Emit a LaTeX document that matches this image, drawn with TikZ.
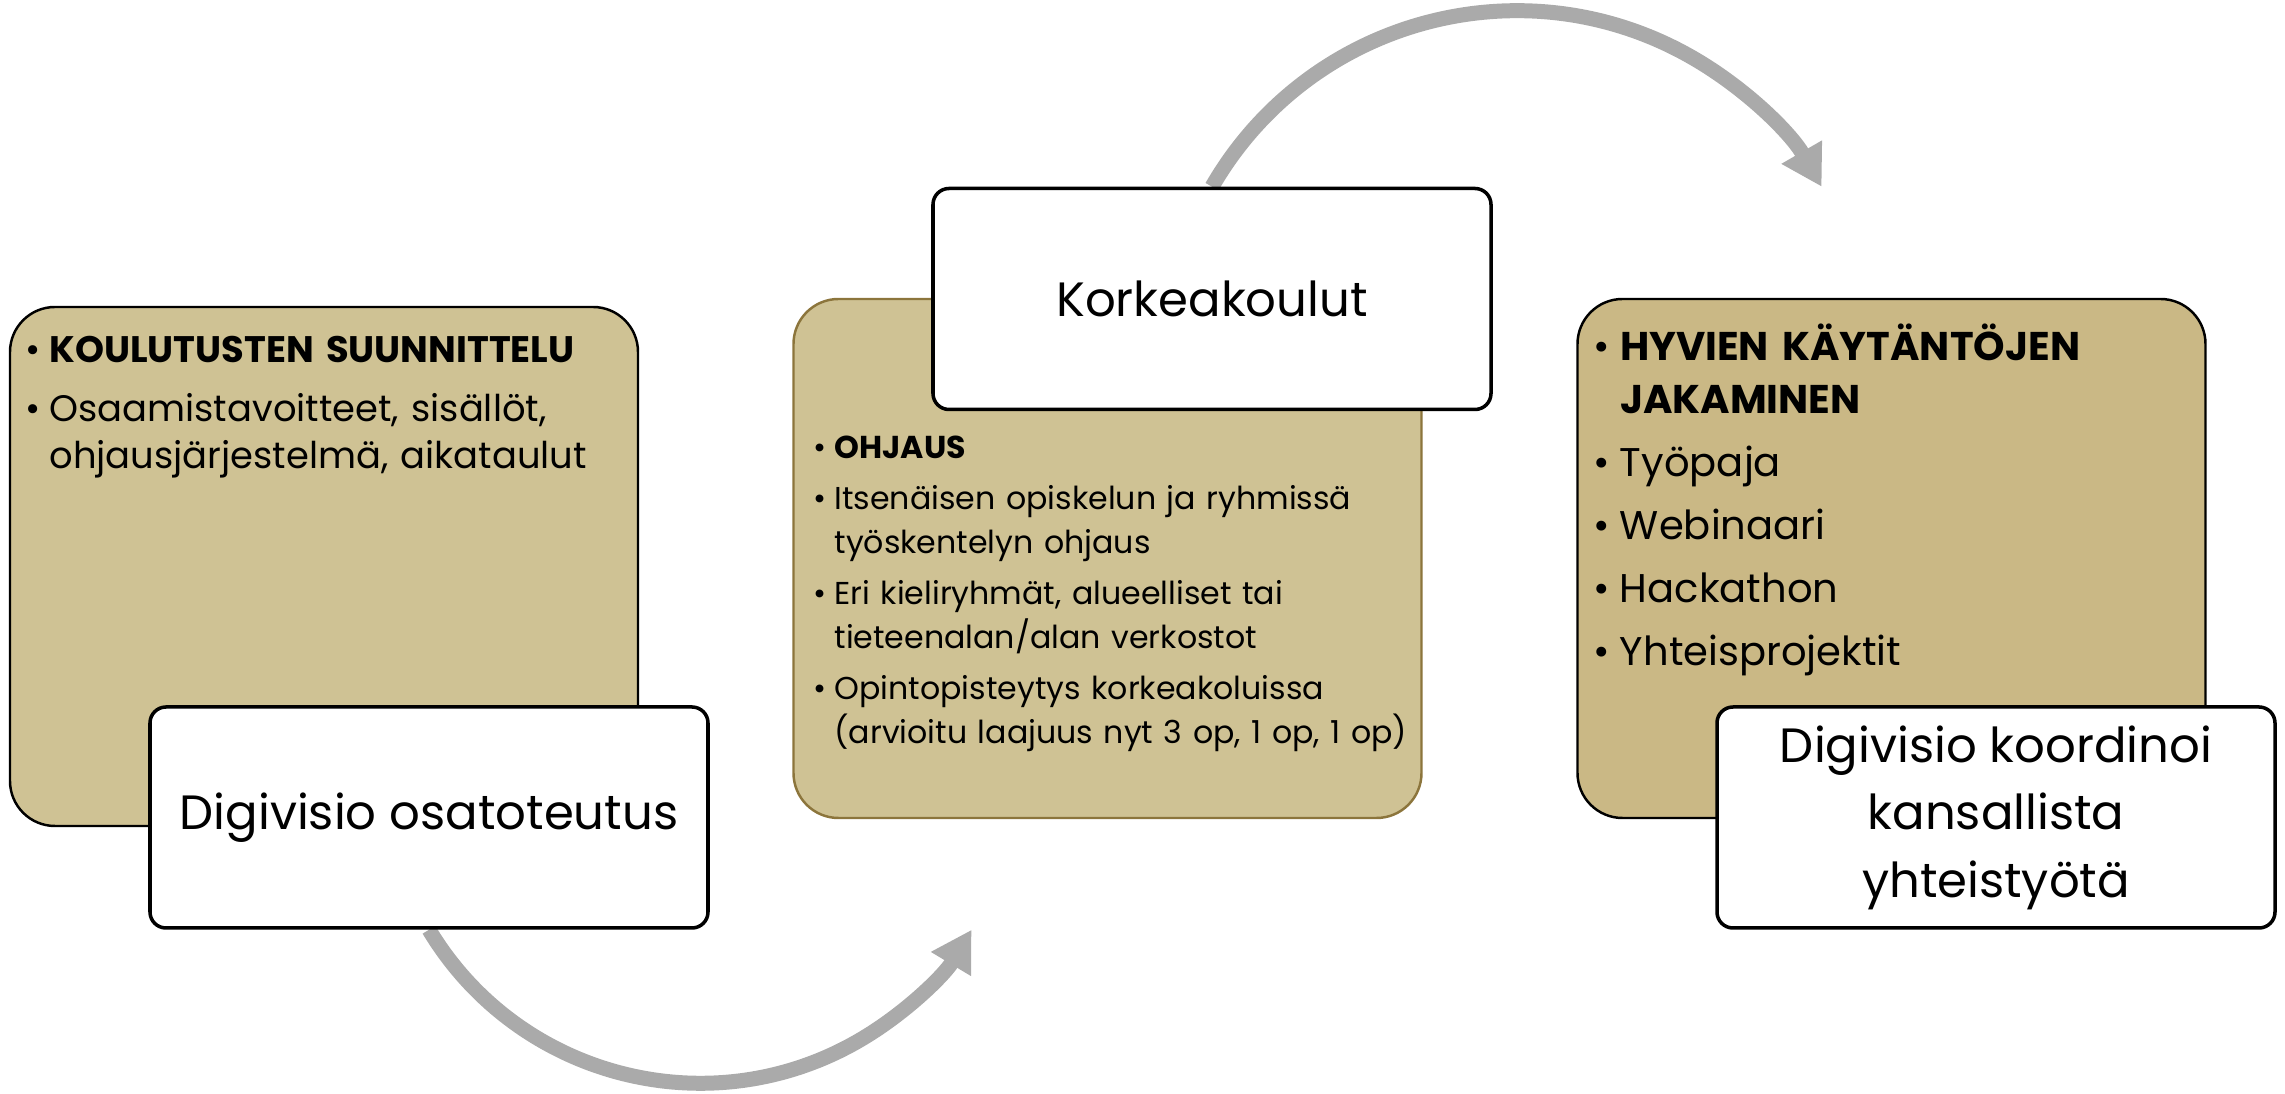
\documentclass[tikz,border=0pt]{standalone}
\usepackage{fontspec}
\setmainfont{Poppins}
\usepackage{tikz}
\usetikzlibrary{arrows.meta, backgrounds, positioning}
\definecolor{tanfill}{RGB}{207,194,148}
\definecolor{tandark}{RGB}{202,184,133}
\definecolor{tanline}{RGB}{140,117,60}
\definecolor{arrowgray}{RGB}{170,170,170}
\newcommand{\bitem}[1]{\par\hangindent=0.65em\hangafter=1\noindent\makebox[0.65em][l]{•}#1}

\begin{document}
\begin{tikzpicture}[x=1cm, y=1cm,
	tanbox/.style={draw=black, line width=0.7pt, fill=tanfill, rounded corners=0.45cm, minimum width=6.28cm, minimum height=5.19cm, inner sep=0pt},
	titlebox/.style={draw=black, line width=1pt, fill=white, rounded corners=0.16cm, minimum width=5.58cm, minimum height=2.21cm, inner sep=0pt, align=center, font=\fontsize{13.7}{19.2}\selectfont},
	listtext/.style={anchor=north west, inner sep=0pt, text width=6.1cm, align=left},
	flow/.style={color=arrowgray, line width=0.15cm, -{Triangle[length=0.4cm, width=0.44cm]}}]
		\useasboundingbox (0,0) rectangle (22.85,10.94);
		% left block
		\node [tanbox] (box1) at (3.24,5.275) {};
		\node [listtext, font={\fontsize{10.5}{13.4}\selectfont\setlength{\parskip}{3.2pt}}] (list1) at ([xshift=0.16cm, yshift=0.02cm]box1.north west)
			{\bitem{\textbf{KOULUTUSTEN SUUNNITTELU}}\bitem{Osaamistavoitteet, sisällöt,\newline ohjausjärjestelmä, aikataulut}\par};
		\node [titlebox] (white1) at (4.29,2.765) {Digivisio osatoteutus};
		% middle block
		\node [tanbox, draw=tanline] (box2) at (11.075,5.355) {};
		\node [listtext, font={\fontsize{9.0}{12.5}\selectfont\setlength{\parskip}{2pt}}] (list2) at ([xshift=0.21cm, yshift=-1.09cm]box2.north west)
			{\bitem{\textbf{OHJAUS}}\bitem{Itsenäisen opiskelun ja ryhmissä\newline työskentelyn ohjaus}\bitem{Eri kieliryhmät, alueelliset tai\newline tieteenalan/alan verkostot}\bitem{Opintopisteytys korkeakoluissa\newline (arvioitu laajuus nyt 3 op, 1 op, 1 op)}\par};
		\node [titlebox] (white2) at (12.12,7.95) {Korkeakoulut};
		% right block
		\node [tanbox, fill=tandark] (box3) at (18.915,5.355) {};
		\node [listtext, font={\fontsize{11.4}{15.1}\selectfont\setlength{\parskip}{2.8pt}}] (list3) at ([xshift=0.17cm, yshift=0.01cm]box3.north west)
			{\bitem{\textbf{HYVIEN KÄYTÄNTÖJEN\newline JAKAMINEN}}\bitem{Työpaja}\bitem{Webinaari}\bitem{Hackathon}\bitem{Yhteisprojektit}\par};
		\node [titlebox] (white3) at (19.96,2.765) {Digivisio koordinoi\\ kansallista\\ yhteistyötä};
		% arrows
		\begin{scope}[on background layer]
			\draw [flow] (white1.south) arc[start angle=211, end angle=329, radius=3.165];
			\draw [flow] (white2.north) arc[start angle=150, end angle=30, radius=3.52];
		\end{scope}
	\end{tikzpicture}
\end{document}
